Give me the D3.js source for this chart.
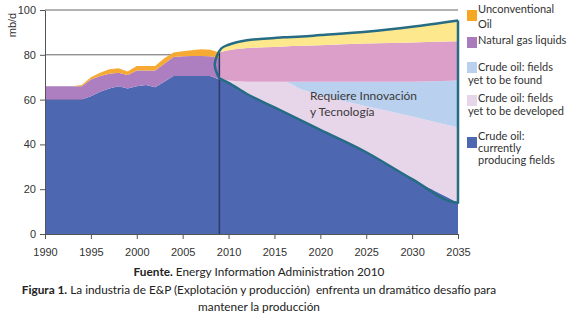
<!DOCTYPE html>
<html>
<head>
<meta charset="utf-8">
<title>Producción E&P</title>
<style>
  body { margin: 0; background: #fff; }
  text { font-family: Lato, "Open Sans", sans-serif; }
  .axis text { font-family: "Liberation Sans", Arial, sans-serif; font-size: 11px; fill: #333; }
  .axis path, .axis line { stroke: #555; }
</style>
</head>
<body>
<svg width="575" height="319"></svg>
<script src="https://d3js.org/d3.v7.min.js"></script>
<script>
// historia 1990-2009 (mb/d)
var histYears = [1990, 1991, 1992, 1993, 1994, 1995, 1996, 1997, 1998, 1999,
                 2000, 2001, 2002, 2003, 2004, 2005, 2006, 2007, 2008, 2009];
var histProducing = [60, 60, 60, 60, 60, 61.5, 63.5, 65, 66, 65,
                     66, 66.5, 65.5, 68, 70.5, 70.5, 70.5, 70.5, 70.5, 69];
var histNgl = [6, 6, 6, 6, 6, 7.5, 7, 6.5, 6, 6,
               7, 6.5, 7.5, 8, 8.5, 8.8, 9, 9, 8.8, 9.5];
var histUnconv = [0, 0, 0, 0, 0.5, 1, 1.5, 2, 2, 1.5,
                  2, 2, 2, 2.5, 2, 2.3, 2.5, 3, 3, 2.5];

// proyeccion 2009-2035
var fcYears = [2009, 2010, 2012, 2015, 2016, 2018, 2020, 2025, 2030, 2035];
var fcProducing = [69.5, 67.5, 62.5, 56.5, 54.5, 50.5, 46.5, 36.5, 24.5, 14];
var fcDeveloped = [0, 1, 5.5, 11.5, 13.5, 14, 15.5, 20.5, 28, 33.5];
var fcFound = [0, 0, 0, 0, 0, 3.5, 6, 11, 15.5, 21];
var fcNgl = [11.5, 13.5, 15, 15.5, 15.7, 16, 16.3, 17, 17.5, 17.5];
var fcUnconv = [1, 2.5, 3.5, 4, 4.1, 4.2, 4.5, 5.3, 7, 9.3];

var yTicks = [0, 20, 40, 60, 80, 100];
var xTicks = [1990, 1995, 2000, 2005, 2010, 2015, 2020, 2025, 2030, 2035];

var legendLabels = [
  ["Unconventional", "Oil"],
  ["Natural gas liquids"],
  ["Crude oil: fields", "yet to be found"],
  ["Crude oil: fields", "yet to be developed"],
  ["Crude oil:", "currently", "producing fields"]
];
var legendColors = ["#f5a623", "#a97bbb", "#b9d1ee", "#e7d5e9", "#4e67b1"];

var svg = d3.select("svg");
var x = d3.scaleLinear().domain([1990, 2035]).range([45, 458]);
var y = d3.scaleLinear().domain([0, 100]).range([234, 10]);

// lineas de grilla (detras de las areas)
svg.append("g").selectAll("line")
  .data(yTicks.filter(function (d) { return d > 0; }))
  .enter().append("line")
  .attr("x1", x(1990)).attr("x2", x(2035))
  .attr("y1", function (d) { return y(d); })
  .attr("y2", function (d) { return y(d); })
  .attr("stroke", "#555").attr("stroke-width", 0.9);

// areas historicas
var hist = histYears.map(function (yr, i) {
  return { year: yr, producing: histProducing[i], ngl: histNgl[i], unconv: histUnconv[i] };
});
var histStack = d3.stack().keys(["producing", "ngl", "unconv"])(hist);
var histColors = ["#4e67b1", "#ad7fc0", "#f6aa33"];

var histArea = d3.area()
  .x(function (d) { return x(d.data.year); })
  .y0(function (d) { return y(d[0]); })
  .y1(function (d) { return y(d[1]); });

svg.append("g").selectAll("path")
  .data(histStack)
  .enter().append("path")
  .attr("d", histArea)
  .attr("fill", function (d, i) { return histColors[i]; });

// areas de proyeccion
var fc = fcYears.map(function (yr, i) {
  return { year: yr, producing: fcProducing[i], developed: fcDeveloped[i],
           found: fcFound[i], ngl: fcNgl[i], unconv: fcUnconv[i] };
});
var fcStack = d3.stack().keys(["producing", "developed", "found", "ngl", "unconv"])(fc);
var fcColors = ["#4e67b1", "#e7d5e9", "#b9d1ee", "#dc9fca", "#fde88e"];

var fcArea = d3.area()
  .curve(d3.curveMonotoneX)
  .x(function (d) { return x(d.data.year); })
  .y0(function (d) { return y(d[0]); })
  .y1(function (d) { return y(d[1]); });

svg.append("g").selectAll("path")
  .data(fcStack)
  .enter().append("path")
  .attr("d", fcArea)
  .attr("fill", function (d, i) { return fcColors[i]; });

// linea vertical 2009
var last = hist.length - 1;
svg.append("line")
  .attr("x1", x(2009)).attr("x2", x(2009))
  .attr("y1", y(histProducing[last] + histNgl[last] + histUnconv[last]))
  .attr("y2", y(0))
  .attr("stroke", "#2b3a66").attr("stroke-width", 1.5);

// contorno de la proyeccion
var totals = fc.map(function (d) {
  return [d.year, d.producing + d.developed + d.found + d.ngl + d.unconv];
});
var topPts = [[2009, fcProducing[0]], [2008.5, (fcProducing[0] + totals[0][1]) / 2],
              [2009.2, totals[0][1] + 0.8]].concat(totals.slice(1));
var outline = d3.line()
  .x(function (d) { return x(d[0]); })
  .y(function (d) { return y(d[1]); });

svg.append("path")
  .attr("d", outline.curve(d3.curveCatmullRom)(topPts))
  .attr("fill", "none").attr("stroke", "#256c84").attr("stroke-width", 2.5);

var lowPts = [totals[totals.length - 1]].concat(
  fc.slice().reverse().map(function (d) { return [d.year, d.producing]; }));
svg.append("path")
  .attr("d", outline.curve(d3.curveMonotoneX)(lowPts))
  .attr("fill", "none").attr("stroke", "#256c84").attr("stroke-width", 2.5)
  .attr("stroke-linejoin", "round");

// ejes
svg.append("g").attr("class", "axis")
  .attr("transform", "translate(" + x(1990) + ",0)")
  .call(d3.axisLeft(y).tickValues(yTicks).tickSize(5).tickSizeOuter(0).tickPadding(4));

svg.append("g").attr("class", "axis")
  .attr("transform", "translate(0," + y(0) + ")")
  .call(d3.axisBottom(x).tickValues(xTicks).tickFormat(d3.format("d"))
    .tickSize(5).tickSizeOuter(0).tickPadding(9));

svg.append("text")
  .attr("transform", "translate(16,25) rotate(-90)")
  .attr("text-anchor", "middle")
  .style("font-family", "'Liberation Sans', Arial, sans-serif")
  .style("font-size", "11px").attr("fill", "#333")
  .text("mb/d");

// anotacion
var note = svg.append("text")
  .attr("x", 310).attr("y", 100)
  .style("font-size", "12px").attr("fill", "#3a3a3a");
note.append("tspan").text("Requiere Innovación");
note.append("tspan").attr("x", 310).attr("y", 116).text("y Tecnología");

// leyenda
var squareTop = [10, 37, 62, 95, 137];
var lineBase = [[13, 28], [44], [71, 84], [102, 115], [140, 152, 164]];
var legend = svg.append("g");
legendLabels.forEach(function (lines, i) {
  legend.append("rect")
    .attr("x", 467).attr("y", squareTop[i])
    .attr("width", 10).attr("height", 11)
    .attr("fill", legendColors[i]);
  lines.forEach(function (t, j) {
    var indent = (j > 0 && t.indexOf("yet") === 0) ? 468 : 478;
    legend.append("text")
      .attr("x", indent).attr("y", lineBase[i][j])
      .style("font-size", "11px").attr("fill", "#333")
      .text(t);
  });
});

// pie de figura
var cap = svg.append("g").attr("text-anchor", "middle").style("font-size", "11.8px").attr("fill", "#222");
var c1 = cap.append("text").attr("x", 259).attr("y", 276);
c1.append("tspan").style("font-weight", "bold").text("Fuente.");
c1.append("tspan").text(" Energy Information Administration 2010");
var c2 = cap.append("text").attr("x", 259).attr("y", 294);
c2.append("tspan").style("font-weight", "bold").text("Figura 1.");
c2.append("tspan").text(" La industria de E&P (Explotación y producción)  enfrenta un dramático desafío para")
  .style("white-space", "pre");
cap.append("text").attr("x", 259).attr("y", 311).text("mantener la producción");
</script>
</body>
</html>
